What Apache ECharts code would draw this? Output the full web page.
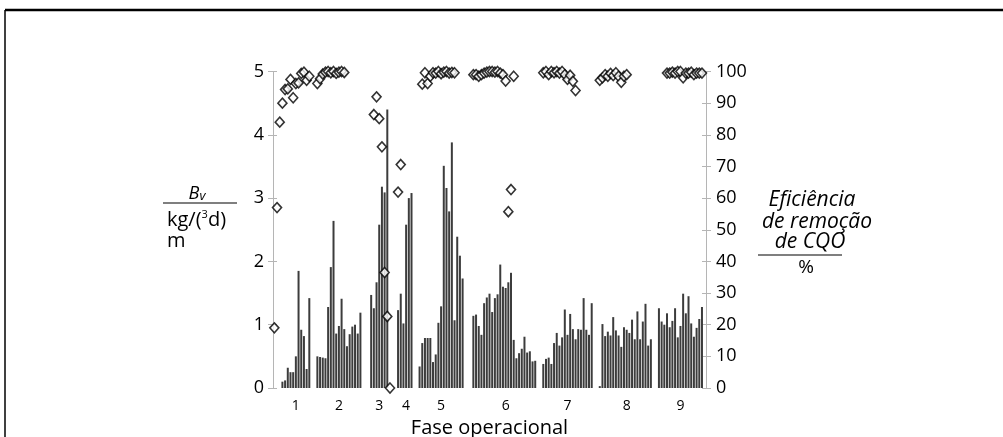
<!DOCTYPE html>
<html>
<head>
<meta charset="utf-8">
<script src="https://cdn.jsdelivr.net/npm/echarts@6/dist/echarts.min.js"></script>
<style>
html,body{margin:0;padding:0;background:#fff;}
#chart{width:1003px;height:437px;}
</style>
</head>
<body>
<div id="chart"></div>
<script>
// Bv (kg/(m3 d)) por fase operacional, null = sem medição nesse dia
var bv1 = [null, null, null, 0.1, 0.12, 0.32, 0.25, 0.25, 0.5, 1.85, 0.92, 0.82, 0.3, 1.42, null];
var bv2 = [null, 0.5, 0.49, 0.48, 0.47, 1.28, 1.91, 2.64, 0.86, 0.98, 1.41, 0.93, 0.66, 0.85, 0.97, 1.0, 0.86, 1.19, null, null];
var bv3 = [null, 1.47, 1.26, 1.67, 2.58, 3.18, 3.09, 4.4, null, null];
var bv4 = [null, 1.23, 1.49, 1.02, 2.58, 3.0, 3.08, null];
var bv5 = [null, 0.34, 0.71, 0.79, 0.79, 0.79, 0.41, 0.53, 1.03, 1.29, 3.51, 3.16, 2.79, 3.88, 1.07, 2.39, 2.09, 1.73, null, null];
var bv6 = [null, 1.14, 1.16, 0.98, 0.84, 1.34, 1.43, 1.49, 1.2, 1.42, 1.48, 1.95, 1.6, 1.58, 1.67, 1.82, 0.76, 0.47, 0.55, 0.62, 0.81, 0.56, 0.58, 0.42, 0.43, null];
var bv7 = [null, 0.38, 0.46, 0.48, 0.38, 0.71, 0.87, 0.67, 0.8, 1.24, 0.84, 1.17, 0.93, 0.77, 0.93, 0.92, 1.42, 0.92, 0.84, 1.34, null];
var bv8 = [null, 0.03, 1.01, 0.82, 0.89, 0.83, 1.12, 0.91, 0.83, 0.65, 0.96, 0.92, 0.87, 1.08, 0.77, 1.21, 0.77, 1.05, 1.33, 0.67, 0.77, null];
var bv9 = [null, 1.26, 1.05, 1.0, 1.18, 0.96, 1.06, 1.26, 0.8, 0.98, 1.49, 1.18, 1.45, 1.02, 0.81, 0.95, 1.09, 1.28, null];

// eficiência de remoção de CQO (%)
var cqo1 = [19, 57, 84, 90, 94.3, 94.5, 97.5, 91.7, 96.2, 96.4, 99.4, 99.8, 97.2, 98.5, null];
var cqo2 = [null, 96.2, 97.7, 99.2, 99.8, 100, 99.6, 100, 99.4, 99.8, 100, 99.7, null, null, null, null, null, null, null, null];
var cqo3 = [null, null, 86.4, 92, 85.1, 76.2, 36.5, 22.6, 0, null];
var cqo4 = [null, 61.9, 70.6, null, null, null, null, null];
var cqo5 = [null, null, 96, 99.6, 96.2, 98.5, 99.6, 99.5, 100, 99.3, 99.8, 100, 99.5, 99.7, 99.6, null, null, null, null, null];
var cqo6 = [null, 99, 99, 98.5, 99, 99.5, 99.8, 100, 100, 99.8, 100, 99.5, 99, 97, 55.7, 62.7, 98.5, null, null, null, null, null, null, null, null, null];
var cqo7 = [null, 99.6, 100, 99, 100, 99.6, 100, 99.5, 100, 99, 97.5, 98.8, 96.9, 94, null, null, null, null, null, null, null];
var cqo8 = [null, 97.2, 98, 99, 98.5, 99.4, 98.7, 99.6, 98.5, 96.6, 98.5, 99, null, null, null, null, null, null, null, null, null, null];
var cqo9 = [null, null, null, null, 99.5, 99.5, 99.8, 99.5, 100, 100, 98, 99.5, 99.5, 99.8, 99, 99.5, 99.5, 99.5, null];

var fases = ['1', '2', '3', '4', '5', '6', '7', '8', '9'];

var bvFases = [bv1, bv2, bv3, bv4, bv5, bv6, bv7, bv8, bv9];
var cqoFases = [cqo1, cqo2, cqo3, cqo4, cqo5, cqo6, cqo7, cqo8, cqo9];

var dias = [], rotulos = [], bv = [], cqo = [];
bvFases.forEach(function (arr, f) {
    var first = -1, last = -1;
    arr.forEach(function (v, i) {
        if (v !== null) { if (first < 0) first = i; last = i; }
    });
    var mid = Math.round((first + last) / 2);
    arr.forEach(function (v, i) {
        dias.push('d' + dias.length);
        rotulos.push(i === mid ? fases[f] : '');
        bv.push(v === null ? '-' : v);
        var c = cqoFases[f][i];
        cqo.push(c === null ? '-' : c);
    });
});

var fonte = '"Open Sans", "DejaVu Sans", sans-serif';
var cinza = '#b5b5b5';

var echar = echarts.init(document.getElementById('chart'));
var option = {
    animation: false,
    textStyle: { fontFamily: fonte, color: '#000' },
    grid: { left: 273, right: 297, top: 71.5, bottom: 49, containLabel: false, outerBoundsMode: 'none' },
    xAxis: {
        type: 'category',
        data: dias,
        axisLine: { show: false },
        axisTick: { show: false },
        axisLabel: {
            interval: 0,
            fontSize: 14,
            color: '#000',
            margin: 11,
            formatter: function (v, i) { return rotulos[i]; }
        },
        name: 'Fase operacional',
        nameLocation: 'middle',
        nameGap: 27,
        nameTextStyle: { fontSize: 20, color: '#000' }
    },
    yAxis: [{
        type: 'value', min: 0, max: 5, interval: 1, position: 'left',
        axisLine: { show: true, lineStyle: { color: cinza } },
        axisTick: { show: true, length: 5, lineStyle: { color: cinza } },
        axisLabel: { fontSize: 18, color: '#000', margin: 9 },
        splitLine: { show: false }
    }, {
        type: 'value', min: 0, max: 100, interval: 10, position: 'right',
        axisLine: { show: true, lineStyle: { color: cinza } },
        axisTick: { show: true, length: 5, lineStyle: { color: cinza } },
        axisLabel: { fontSize: 18, color: '#000', margin: 10 },
        splitLine: { show: false }
    }, {
        type: 'value', min: 0, max: 5, interval: 1, position: 'left',
        axisLine: { show: false },
        axisTick: { show: true, inside: true, length: 4, lineStyle: { color: cinza } },
        axisLabel: { show: false },
        splitLine: { show: false }
    }, {
        type: 'value', min: 0, max: 100, interval: 10, position: 'right',
        axisLine: { show: false },
        axisTick: { show: true, inside: true, length: 4, lineStyle: { color: cinza } },
        axisLabel: { show: false },
        splitLine: { show: false }
    }],
    series: [{
        type: 'bar',
        data: bv,
        yAxisIndex: 0,
        barWidth: 2,
        itemStyle: { color: '#3c3c3c' }
    }, {
        type: 'scatter',
        data: cqo,
        yAxisIndex: 1,
        symbol: 'diamond',
        symbolSize: [9, 10],
        itemStyle: { color: '#fff', borderColor: '#000', borderWidth: 1.6 },
        z: 3
    }],
    graphic: [
        // moldura
        { type: 'line', shape: { x1: 5, y1: 10, x2: 1003, y2: 10 }, style: { stroke: '#000', lineWidth: 2.5 } },
        { type: 'line', shape: { x1: 5, y1: 10, x2: 5, y2: 437 }, style: { stroke: '#000', lineWidth: 1.5 } },
        // nome do eixo esquerdo
        {
            type: 'text', x: 197, y: 194,
            style: {
                text: '{b|B}{v|v}', align: 'center', verticalAlign: 'middle',
                rich: {
                    b: { fontFamily: fonte, fontStyle: 'italic', fontSize: 18, fill: '#000' },
                    v: { fontFamily: fonte, fontStyle: 'italic', fontSize: 13, fill: '#000', verticalAlign: 'bottom' }
                }
            }
        },
        { type: 'line', shape: { x1: 163, y1: 203, x2: 237, y2: 203 }, style: { stroke: '#000', lineWidth: 1.2 } },
        {
            type: 'text', x: 167, y: 220,
            style: {
                text: '{t|kg/(}{s|3}{t|d)}', align: 'left', verticalAlign: 'middle',
                rich: {
                    t: { fontFamily: fonte, fontSize: 20, fill: '#000', lineHeight: 22 },
                    s: { fontFamily: fonte, fontSize: 11, fill: '#000', verticalAlign: 'top', lineHeight: 22 }
                }
            }
        },
        { type: 'text', x: 167, y: 241, style: { text: 'm', font: '20px ' + fonte, fill: '#000', verticalAlign: 'middle' } },
        // nome do eixo direito
        { type: 'text', x: 812, y: 200, style: { text: 'Eficiência', font: 'italic 21px ' + fonte, fill: '#000', align: 'center', verticalAlign: 'middle' } },
        { type: 'text', x: 817, y: 222, style: { text: 'de remoção', font: 'italic 21px ' + fonte, fill: '#000', align: 'center', verticalAlign: 'middle' } },
        { type: 'text', x: 810, y: 242, style: { text: 'de CQO', font: 'italic 21px ' + fonte, fill: '#000', align: 'center', verticalAlign: 'middle' } },
        { type: 'line', shape: { x1: 758, y1: 255, x2: 842, y2: 255 }, style: { stroke: '#000', lineWidth: 1.2 } },
        { type: 'text', x: 806, y: 268, style: { text: '%', font: '19px ' + fonte, fill: '#000', align: 'center', verticalAlign: 'middle' } }
    ]
};
echar.setOption(option);
</script>
</body>
</html>
